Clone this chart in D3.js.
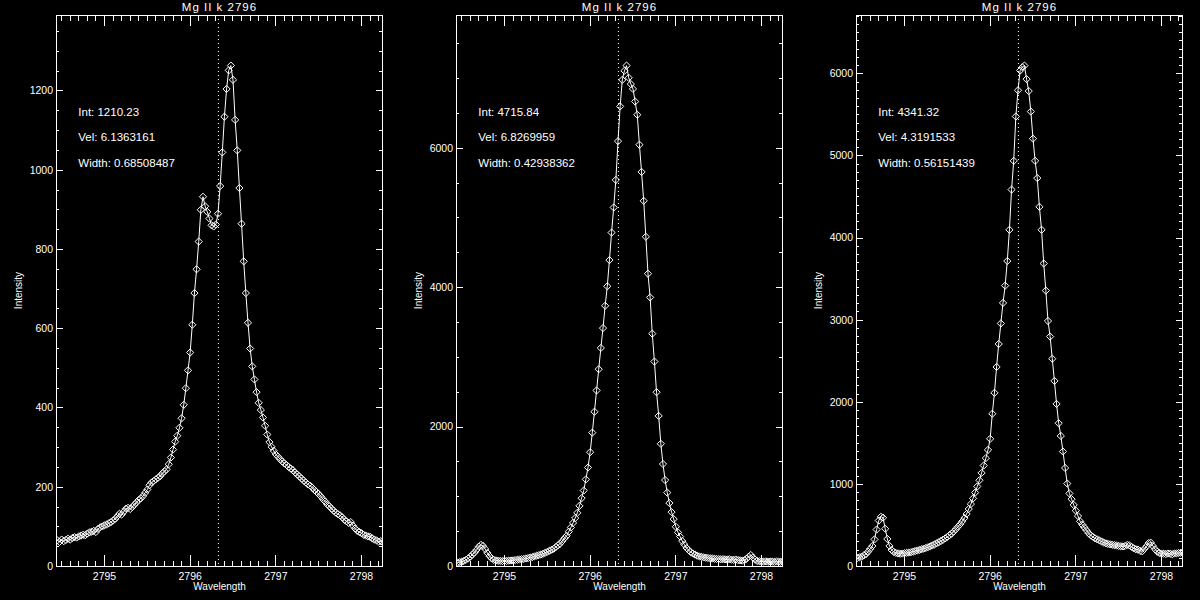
<!DOCTYPE html>
<html>
<head>
<meta charset="utf-8">
<script src="https://d3js.org/d3.v7.min.js"></script>
<style>
  body { margin: 0; background: black; }
  svg { display: block; background: black; }
  text { font-family: "Liberation Sans", Arial, sans-serif; fill: white; }
</style>
</head>
<body>
<div id="svgzone"></div>
<script>
// wavelength samples (Angstrom), shared by the three spectra
const wavelength = [
  2794.45, 2794.475, 2794.5, 2794.525, 2794.55, 2794.575, 2794.6, 2794.625, 2794.65, 2794.675,
  2794.7, 2794.725, 2794.75, 2794.775, 2794.8, 2794.825, 2794.85, 2794.875, 2794.9, 2794.925,
  2794.95, 2794.975, 2795.0, 2795.025, 2795.05, 2795.075, 2795.1, 2795.125, 2795.15, 2795.175,
  2795.2, 2795.225, 2795.25, 2795.275, 2795.3, 2795.325, 2795.35, 2795.375, 2795.4, 2795.425,
  2795.45, 2795.475, 2795.5, 2795.525, 2795.55, 2795.575, 2795.6, 2795.625, 2795.65, 2795.675,
  2795.7, 2795.725, 2795.75, 2795.775, 2795.8, 2795.825, 2795.85, 2795.875, 2795.9, 2795.925,
  2795.95, 2795.975, 2796.0, 2796.025, 2796.05, 2796.075, 2796.1, 2796.125, 2796.15, 2796.175,
  2796.2, 2796.225, 2796.25, 2796.275, 2796.3, 2796.325, 2796.35, 2796.375, 2796.4, 2796.425,
  2796.45, 2796.475, 2796.5, 2796.525, 2796.55, 2796.575, 2796.6, 2796.625, 2796.65, 2796.675,
  2796.7, 2796.725, 2796.75, 2796.775, 2796.8, 2796.825, 2796.85, 2796.875, 2796.9, 2796.925,
  2796.95, 2796.975, 2797.0, 2797.025, 2797.05, 2797.075, 2797.1, 2797.125, 2797.15, 2797.175,
  2797.2, 2797.225, 2797.25, 2797.275, 2797.3, 2797.325, 2797.35, 2797.375, 2797.4, 2797.425,
  2797.45, 2797.475, 2797.5, 2797.525, 2797.55, 2797.575, 2797.6, 2797.625, 2797.65, 2797.675,
  2797.7, 2797.725, 2797.75, 2797.775, 2797.8, 2797.825, 2797.85, 2797.875, 2797.9, 2797.925,
  2797.95, 2797.975, 2798.0, 2798.025, 2798.05, 2798.075, 2798.1, 2798.125, 2798.15, 2798.175,
  2798.2, 2798.225, 2798.25
];

// intensities
const intensity1 = [
  66, 62, 68, 64, 67, 70, 68, 72, 74, 73,
  76, 78, 80, 79, 83, 86, 88, 90, 87, 95,
  99, 101, 104, 106, 109, 112, 116, 120, 127, 133,
  131, 138, 146, 148, 145, 150, 156, 162, 168, 172,
  178, 186, 194, 205, 212, 216, 220, 224, 228, 235,
  240, 245, 258, 275, 295, 315, 330, 350, 374, 408,
  450, 495, 540, 610, 690, 750, 820, 900, 933, 909,
  895, 878, 861, 858, 863, 890, 960, 1045, 1135, 1205,
  1252, 1264, 1228, 1127, 1050, 955, 865, 770, 690, 615,
  550, 505, 472, 440, 413, 395, 376, 355, 333, 314,
  302, 292, 283, 277, 271, 265, 260, 256, 251, 247,
  243, 237, 232, 227, 222, 217, 212, 207, 204, 199,
  193, 188, 183, 177, 170, 164, 157, 152, 146, 141,
  136, 132, 129, 124, 118, 114, 110, 112, 103, 96,
  90, 87, 84, 80, 78, 76, 75, 71, 68, 66,
  63, 64, 61
];

const intensity2 = [
  55, 62, 70, 80, 95, 115, 140, 170, 200, 240,
  285, 310, 295, 250, 195, 150, 115, 95, 88, 82,
  80, 78, 82, 80, 84, 86, 88, 92, 96, 100,
  104, 108, 115, 120, 128, 135, 145, 155, 163, 172,
  182, 196, 210, 226, 240, 255, 280, 305, 328, 365,
  405, 440, 500, 560, 625, 695, 770, 870, 980, 1090,
  1250, 1420, 1640, 1920, 2220, 2525, 2830, 3135, 3420, 3740,
  4020, 4395, 4790, 5150, 5545, 6101, 6600, 6980, 7110, 7185,
  7010, 6920, 6850, 6670, 6480, 6050, 5660, 5245, 4730, 4200,
  3860, 3340, 2940, 2500, 2160, 1760, 1470, 1240, 1060, 910,
  780, 680, 570, 490, 430, 365, 315, 265, 235, 205,
  185, 170, 155, 145, 138, 130, 126, 122, 118, 115,
  112, 108, 106, 104, 106, 102, 100, 104, 98, 95,
  100, 92, 88, 85, 90, 110, 140, 165, 130, 98,
  80, 75, 72, 70, 74, 68, 72, 70, 66, 72,
  70, 68, 72
];

const intensity3 = [
  105, 112, 120, 135, 150, 180, 215, 250, 330, 450,
  560, 605, 595, 460, 335, 250, 200, 178, 165, 160,
  155, 158, 162, 166, 170, 174, 180, 188, 195, 202,
  210, 218, 226, 235, 245, 256, 268, 282, 296, 310,
  325, 342, 360, 380, 400, 425, 455, 485, 515, 550,
  590, 640, 700, 760, 830, 900, 975, 1050, 1140, 1230,
  1320, 1420, 1555, 1860, 2115, 2430, 2710, 2960, 3210, 3420,
  3720, 4100, 4590, 4940, 5480, 5800, 6040, 6080, 6100, 5935,
  5790, 5540, 5210, 4940, 4730, 4380, 4100, 3690, 3360, 2990,
  2800, 2530, 2260, 1980, 1745, 1590, 1400, 1200, 1010, 890,
  820, 750, 680, 615, 550, 510, 475, 440, 405, 378,
  360, 342, 330, 318, 305, 292, 282, 275, 270, 265,
  260, 255, 250, 246, 244, 250, 262, 258, 240, 222,
  210, 205, 190, 185, 215, 245, 285, 290, 250, 210,
  180, 165, 158, 155, 152, 158, 155, 150, 158, 160,
  165, 168, 172
];

// fit results printed in each panel
const fitInt = ["1210.23", "4715.84", "4341.32"];
const fitVel = ["6.1363161", "6.8269959", "4.3191533"];
const fitWidth = ["0.68508487", "0.42938362", "0.56151439"];

const panelTitle = "Mg II k 2796";
const xMajorTicks = [2795, 2796, 2797, 2798];
const yMajorStep = [200, 2000, 1000];
const yMinorStep = [50, 500, 100];
const restWave = 2796.33;
const xDomain = [2794.44, 2798.245];

//Setting the dimensions of each panel
let margin = { top: 15, left: 56 },
    width = 326,
    height = 551,
    panelWidth = 400;

// add the svg object
let svg = d3.select("#svgzone")
    .append("svg")
    .attr("width", 1200)
    .attr("height", 600);

buildPanel(0, intensity1);
buildPanel(1, intensity2);
buildPanel(2, intensity3);

function buildPanel(k, spectrum) {

    let g = svg.append("g")
        .attr("transform", "translate(" + (k * panelWidth + margin.left) + "," + margin.top + ")");

    let points = wavelength.map(function (w, i) { return { w: w, v: spectrum[i] }; });

    // scales, IDL style: y runs to 1.1 x the maximum
    let x = d3.scaleLinear()
        .domain(xDomain)
        .range([0, width]);

    let ymax = 1.1 * d3.max(spectrum);
    let y = d3.scaleLinear()
        .domain([0, ymax])
        .range([height, 0]);

    let xMinor = d3.range(27945, 27983).map(function (d) { return d / 10; });
    let yMajor = d3.range(0, ymax, yMajorStep[k]);
    let yMinor = d3.range(0, ymax, yMinorStep[k]);

    // bottom axis with labels, ticks pointing in
    g.append("g")
        .attr("transform", "translate(0," + height + ")")
        .call(d3.axisBottom(x).tickValues(xMajorTicks).tickSize(-11).tickPadding(6.5).tickFormat(d3.format("d")));
    g.append("g")
        .attr("transform", "translate(0," + height + ")")
        .call(d3.axisBottom(x).tickValues(xMinor).tickSize(-5.5).tickFormat(""));

    // top axis, ticks only
    g.append("g")
        .call(d3.axisTop(x).tickValues(xMajorTicks).tickSize(-11).tickFormat(""));
    g.append("g")
        .call(d3.axisTop(x).tickValues(xMinor).tickSize(-5.5).tickFormat(""));

    // left axis with labels
    g.append("g")
        .call(d3.axisLeft(y).tickValues(yMajor).tickSize(-6.5).tickPadding(3).tickFormat(d3.format("d")));
    g.append("g")
        .call(d3.axisLeft(y).tickValues(yMinor).tickSize(-3.3).tickFormat(""));

    // right axis, ticks only
    g.append("g")
        .attr("transform", "translate(" + width + ",0)")
        .call(d3.axisRight(y).tickValues(yMajor).tickSize(-6.5).tickFormat(""));
    g.append("g")
        .attr("transform", "translate(" + width + ",0)")
        .call(d3.axisRight(y).tickValues(yMinor).tickSize(-3.3).tickFormat(""));

    g.selectAll(".domain").remove();
    g.selectAll(".tick line").attr("stroke", "white").attr("shape-rendering", "crispEdges");
    g.selectAll(".tick text")
        .style("font-size", "10.5px")
        .attr("fill", "white");

    // frame
    g.append("rect")
        .attr("x", 0.5)
        .attr("y", 0.5)
        .attr("width", width)
        .attr("height", height)
        .attr("fill", "none")
        .attr("stroke", "white")
        .attr("shape-rendering", "crispEdges");

    // dotted line at the rest wavelength
    g.append("line")
        .attr("x1", x(restWave) + 0.5)
        .attr("x2", x(restWave) + 0.5)
        .attr("y1", 0)
        .attr("y2", height)
        .attr("stroke", "white")
        .attr("stroke-dasharray", "1,3");

    // clip the spectrum to the plot box
    g.append("clipPath")
        .attr("id", "clip" + k)
        .append("rect")
        .attr("x", 0.5)
        .attr("y", 0.5)
        .attr("width", width)
        .attr("height", height);

    let plot = g.append("g").attr("clip-path", "url(#clip" + k + ")");

    plot.append("path")
        .datum(points)
        .attr("fill", "none")
        .attr("stroke", "white")
        .attr("stroke-width", 1)
        .attr("d", d3.line()
            .x(function (d) { return x(d.w) + 0.5; })
            .y(function (d) { return y(d.v) + 0.5; }));

    // diamonds (psym 4)
    plot.selectAll("diamonds")
        .data(points)
        .enter()
        .append("path")
        .attr("transform", function (d) { return "translate(" + (x(d.w) + 0.5) + "," + (y(d.v) + 0.5) + ")"; })
        .attr("d", "M0,-3.6L3.6,0L0,3.6L-3.6,0Z")
        .attr("fill", "none")
        .attr("stroke", "white")
        .attr("stroke-width", 1);

    // title and axis titles
    g.append("text")
        .attr("x", width / 2 + 0.5)
        .attr("y", -4.3)
        .attr("text-anchor", "middle")
        .style("font-size", "11.5px")
        .style("letter-spacing", "1px")
        .text(panelTitle);

    g.append("text")
        .attr("x", width / 2 + 0.5)
        .attr("y", 575)
        .attr("text-anchor", "middle")
        .style("font-size", "10px")
        .text("Wavelength");

    g.append("text")
        .attr("transform", "translate(-34," + (height / 2) + ") rotate(-90)")
        .attr("text-anchor", "middle")
        .style("font-size", "10px")
        .text("Intensity");

    // fit annotations
    let notes = ["Int: " + fitInt[k], "Vel: " + fitVel[k], "Width: " + fitWidth[k]];
    g.selectAll("notes")
        .data(notes)
        .enter()
        .append("text")
        .attr("x", 22.3)
        .attr("y", function (d, i) { return 101 + i * 25.3; }) // 25 px between lines
        .style("font-size", "11.5px")
        .text(function (d) { return d; });
}
</script>
</body>
</html>
